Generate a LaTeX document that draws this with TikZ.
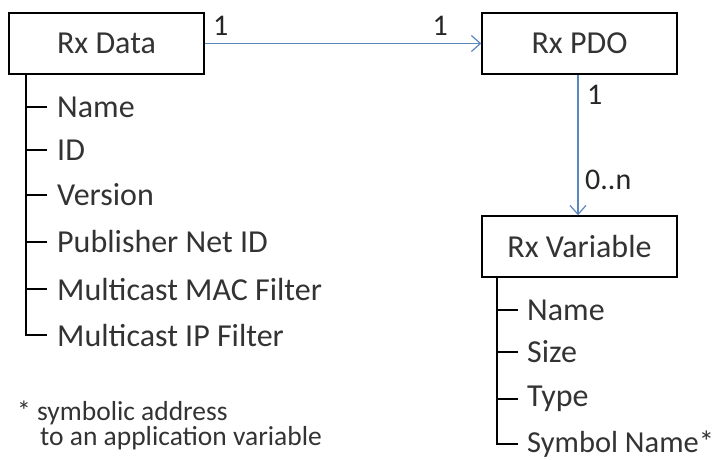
\documentclass[tikz,border=0pt]{standalone}
\usepackage{fontspec}
\setmainfont{Carlito}
\usetikzlibrary{arrows.meta}
\definecolor{linkblue}{HTML}{5B87C0}
\begin{document}
\begin{tikzpicture}[x=1pt,y=-1pt,
  box/.style={draw=black,line width=1.4pt,minimum width=195pt,minimum height=61pt,inner sep=0pt,font=\fontsize{32}{36}\selectfont,text=black!80},
  item/.style={anchor=west,inner sep=0pt,font=\fontsize{32}{36}\selectfont,text=black!80},
  note/.style={anchor=west,inner sep=0pt,font=\fontsize{27.5}{30}\selectfont,text=black!80},
  mult/.style={inner sep=0pt,font=\fontsize{30}{34}\selectfont,text=black!85},
  tree/.style={line width=1.4pt,black},
  link/.style={linkblue,line width=1.3pt,-{Straight Barb[length=9pt,width=16pt,line width=1.2pt]}}]
\useasboundingbox (0,0) rectangle (723,459);
\node[box] (data) at (106.5,43.5) {Rx Data};
\node[box] (pdo) at (579.5,43.5) {Rx PDO};
\node[box] (var) at (579.5,246.5) {Rx Variable};
\draw[link] (data.east) -- (pdo.west);
\draw[link] (pdo.south -| 578,0) -- (var.north -| 578,0);
\node[mult,anchor=base west] (m1) at (213,35) {1};
\node[mult,anchor=base east] (m2) at (448,35) {1};
\node[mult,anchor=base west] (m3) at (587,104) {1};
\node[mult,anchor=base west] (m4) at (585,189) {0..n};
% Rx Data attributes
\foreach \t/\y [count=\i] in {Name/107,ID/150,Version/195,Publisher Net ID/242,Multicast MAC Filter/289,Multicast IP Filter/335}{
  \node[item] (d\i) at (57,\y) {\t};
}
\coordinate (dtop) at (26,74);
\draw[tree] (dtop) -- (26,335) -- ([xshift=-10pt]d6.west);
\foreach \i in {1,...,5}{\draw[tree] (26,0 |- d\i.west) -- ([xshift=-10pt]d\i.west);}
% Rx Variable attributes
\foreach \t/\y [count=\i] in {Name/310,Size/352,Type/399}{
  \node[item] (v\i) at (527,\y) {\t};
}
\node[item,font=\fontsize{30.5}{34}\selectfont] (v4) at (527,444) {Symbol Name*};
\coordinate (vtop) at (497,277);
\draw[tree] (vtop) -- (497,444) -- ([xshift=-9pt]v4.west);
\foreach \i in {1,...,3}{\draw[tree] (497,0 |- v\i.west) -- ([xshift=-9pt]v\i.west);}
% footnote
\node[note] (f1) at (17,413) {* symbolic address};
\node[note] (f2) at (40,438) {to an application variable};
\end{tikzpicture}
\end{document}
